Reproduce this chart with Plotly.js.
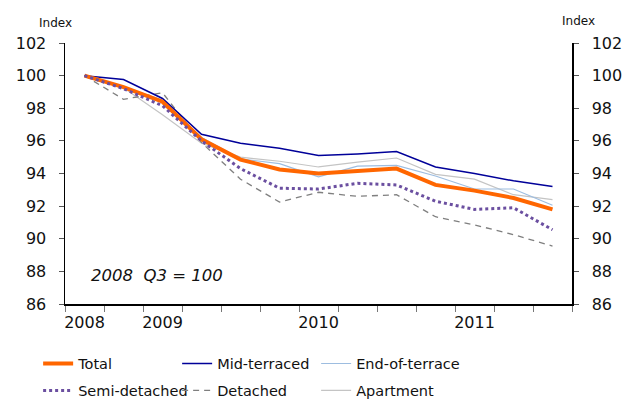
<!DOCTYPE html>
<html>
<head>
<meta charset="utf-8">
<script src="https://cdn.plot.ly/plotly-3.0.1.min.js"></script>
<style>
  html, body { margin: 0; padding: 0; background: #fff; }
  #chart { width: 632px; height: 399px; }
</style>
</head>
<body>
<div id="chart"></div>
<script>
// Quarterly house price index by dwelling type (2008 Q3 = 100)
const quarters = [
  "2008 Q3", "2008 Q4",
  "2009 Q1", "2009 Q2", "2009 Q3", "2009 Q4",
  "2010 Q1", "2010 Q2", "2010 Q3", "2010 Q4",
  "2011 Q1", "2011 Q2", "2011 Q3"
];
const yearLabels = ["2008", "", "2009", "", "", "", "2010", "", "", "", "2011", "", ""];

const total         = [100, 99.30, 98.40, 96.10, 94.85, 94.25, 94.00, 94.15, 94.30, 93.30, 92.95, 92.50, 91.80];
const midTerraced   = [100, 99.76, 98.60, 96.40, 95.85, 95.55, 95.10, 95.20, 95.35, 94.40, 94.00, 93.55, 93.20];
const endOfTerrace  = [100, 99.30, 98.50, 96.20, 94.90, 94.60, 93.80, 94.45, 94.50, 93.85, 93.05, 93.05, 92.05];
const semiDetached  = [100, 99.20, 98.15, 96.00, 94.30, 93.10, 93.05, 93.40, 93.30, 92.30, 91.80, 91.90, 90.55];
const detached      = [100, 98.55, 98.95, 95.90, 93.65, 92.25, 92.85, 92.60, 92.70, 91.35, 90.85, 90.25, 89.55];
const apartment     = [100, 99.25, 97.60, 95.85, 95.00, 94.75, 94.40, 94.70, 94.95, 93.95, 93.65, 92.70, 92.40];

const FONT = "DejaVu Sans, Verdana, sans-serif";

function series(name, values, line, legend) {
  return {
    type: "scatter", mode: "lines", name: name,
    x: quarters, y: values, line: line,
    legend: legend, hoverinfo: "skip"
  };
}

const traces = [
  series("Apartment",      apartment,    {color: "#c4c4c4", width: 1.2}, "legend2"),
  series("End-of-terrace", endOfTerrace, {color: "#9dbde0", width: 1.2}, "legend"),
  series("Detached",       detached,     {color: "#7f7f7f", width: 1.3, dash: "6px,5px"}, "legend2"),
  series("Mid-terraced",   midTerraced,  {color: "#000099", width: 1.5}, "legend"),
  series("Total",          total,        {color: "#ff6600", width: 4}, "legend"),
  series("Semi-detached",  semiDetached, {color: "#6b4fa0", width: 3, dash: "dot"}, "legend2")
];
// legend order within each row; the last column gets room for its longer label
const rank = {"Total": 1, "Mid-terraced": 2, "End-of-terrace": 3, "Semi-detached": 1, "Detached": 2, "Apartment": 3};
traces.forEach(t => {
  t.legendrank = rank[t.name];
  if (rank[t.name] === 3) t.legendwidth = 130;
});

const yAxisCommon = {
  range: [86, 102], dtick: 2, tick0: 86,
  showline: true, linecolor: "#000", linewidth: 1.5,
  ticks: "outside", ticklen: 5, tickcolor: "#555", tickwidth: 1,
  showgrid: false, zeroline: false,
  tickfont: {family: FONT, size: 16, color: "#111"},
  ticklabelstandoff: 9
};

const legendCommon = {
  orientation: "h", xanchor: "left", yanchor: "top",
  x: -0.053, entrywidth: 94, entrywidthmode: "pixels",
  itemwidth: 30, traceorder: "normal",
  font: {family: FONT, size: 14.5, color: "#111"},
  bgcolor: "rgba(0,0,0,0)"
};

const layout = {
  width: 632, height: 399,
  margin: {l: 65, r: 60, t: 43, b: 95, autoexpand: false},
  paper_bgcolor: "#fff", plot_bgcolor: "#fff",
  showlegend: true,
  xaxis: {
    type: "category", range: [-0.5, 12.5],
    tickmode: "array", tickvals: quarters, ticktext: yearLabels,
    tickson: "boundaries", tickangle: 0,
    showline: true, linecolor: "#000", linewidth: 1.5,
    ticks: "outside", ticklen: 6, tickcolor: "#777", tickwidth: 1,
    showgrid: false, zeroline: false, ticklabelstandoff: 3,
    tickfont: {family: FONT, size: 16, color: "#111"}
  },
  yaxis: Object.assign({side: "left"}, yAxisCommon),
  yaxis2: Object.assign({side: "right", overlaying: "y", matches: "y"}, yAxisCommon, {ticklabelstandoff: 10}),
  legend:  Object.assign({}, legendCommon, {y: -0.167}),
  legend2: Object.assign({}, legendCommon, {y: -0.27}),
  annotations: [
    {text: "Index", xref: "paper", yref: "paper", x: -0.018, y: 1.077,
     xanchor: "center", yanchor: "middle", showarrow: false,
     font: {family: FONT, size: 12, color: "#111"}},
    {text: "Index", xref: "paper", yref: "paper", x: 1.013, y: 1.085,
     xanchor: "center", yanchor: "middle", showarrow: false,
     font: {family: FONT, size: 12, color: "#111"}},
    {text: "2008  Q3 = 100", xref: "paper", yref: "y", x: 0.047, y: 87.76,
     xanchor: "left", yanchor: "middle", showarrow: false,
     font: {family: FONT, size: 16.5, color: "#111", style: "italic"}}
  ]
};

// invisible carrier so the right-hand axis is rendered
traces.push({type: "scatter", mode: "lines", x: quarters, y: total, yaxis: "y2",
  showlegend: false, hoverinfo: "skip", line: {width: 0}, opacity: 0});

Plotly.newPlot("chart", traces, layout, {staticPlot: true, displayModeBar: false});
</script>
</body>
</html>
